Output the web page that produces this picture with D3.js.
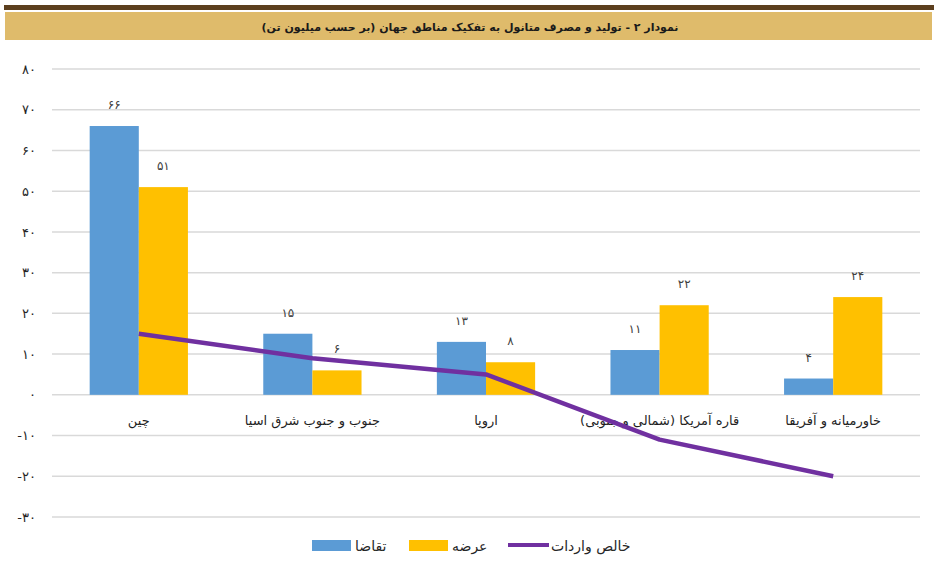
<!DOCTYPE html>
<html>
<head>
<meta charset="utf-8">
<script src="https://cdn.jsdelivr.net/npm/d3@7/dist/d3.min.js"></script>
<style>
  body { margin: 0; background: #fff; }
  svg { display: block; font-family: "DejaVu Sans", sans-serif; }
</style>
</head>
<body>
<svg id="chart" width="938" height="571"></svg>
<script>
// data
const regions = ['چین', 'جنوب و جنوب شرق اسیا', 'اروپا', 'قاره آمریکا (شمالی و جنوبی)', 'خاورمیانه و آفریقا'];
const demand = [66, 15, 13, 11, 4];
const supply = [51, 6, 8, 22, 24];
const netImports = [15, 9, 5, -11, -20];
const yTicks = [80, 70, 60, 50, 40, 30, 20, 10, 0, -10, -20, -30];
const seriesNames = ['تقاضا', 'عرضه', 'خالص واردات'];
const title = 'نمودار ۲ - تولید و مصرف متانول به تفکیک مناطق جهان (بر حسب میلیون تن)';

const colors = { demand: '#5b9bd5', supply: '#ffc000', net: '#7030a0' };

// persian digits
const fa = n => String(n).replace(/\d/g, d => '۰۱۲۳۴۵۶۷۸۹'[d]);

const svg = d3.select('#chart');

// header band
svg.append('rect').attr('x', 4).attr('y', 5).attr('width', 930).attr('height', 5).attr('fill', '#5c3f1e');
svg.append('rect').attr('x', 5).attr('y', 12).attr('width', 927).attr('height', 28).attr('fill', '#dfbb6b');
svg.append('text')
  .attr('x', 470).attr('y', 31)
  .attr('text-anchor', 'middle')
  .attr('direction', 'rtl')
  .attr('font-size', 11).attr('font-weight', 'bold')
  .attr('fill', '#1a1a1a')
  .text(title);

const x = d3.scaleBand().domain(regions).range([52, 920]);
const y = d3.scaleLinear().domain([-30, 80]).range([517, 69]);
const barW = x.bandwidth() * 0.283;

// grid
const grid = svg.append('g');
grid.selectAll('line').data(yTicks).join('line')
  .attr('x1', 52).attr('x2', 920)
  .attr('y1', d => y(d)).attr('y2', d => y(d))
  .attr('stroke', '#d9d9d9').attr('stroke-width', 1.5);

// y axis labels
const yAxis = svg.append('g').attr('transform', 'translate(39,0)')
  .call(d3.axisLeft(y).tickValues(yTicks).tickSize(0).tickFormat(fa));
yAxis.select('.domain').remove();
yAxis.selectAll('text').attr('font-size', 13).attr('fill', '#262626')
  .attr('font-family', '"DejaVu Sans", sans-serif').attr('direction', 'ltr');

// bars
const bars = svg.append('g');
bars.selectAll('rect.demand').data(demand).join('rect')
  .attr('class', 'demand')
  .attr('x', (d, i) => x(regions[i]) + x.bandwidth() / 2 - barW)
  .attr('y', d => y(Math.max(d, 0)))
  .attr('width', barW)
  .attr('height', d => Math.abs(y(d) - y(0)))
  .attr('fill', colors.demand);
bars.selectAll('rect.supply').data(supply).join('rect')
  .attr('class', 'supply')
  .attr('x', (d, i) => x(regions[i]) + x.bandwidth() / 2)
  .attr('y', d => y(Math.max(d, 0)))
  .attr('width', barW)
  .attr('height', d => Math.abs(y(d) - y(0)))
  .attr('fill', colors.supply);

// value labels
const labels = svg.append('g').attr('font-size', 12).attr('fill', '#404040').attr('text-anchor', 'middle');
labels.selectAll('text.demand').data(demand).join('text')
  .attr('class', 'demand')
  .attr('x', (d, i) => x(regions[i]) + x.bandwidth() / 2 - barW / 2)
  .attr('y', d => y(d) - 17)
  .text(fa);
labels.selectAll('text.supply').data(supply).join('text')
  .attr('class', 'supply')
  .attr('x', (d, i) => x(regions[i]) + x.bandwidth() / 2 + barW / 2)
  .attr('y', d => y(d) - 17)
  .text(fa);

// category labels
svg.append('g').selectAll('text').data(regions).join('text')
  .attr('x', d => x(d) + x.bandwidth() / 2)
  .attr('y', 425)
  .attr('text-anchor', 'middle')
  .attr('direction', 'rtl')
  .attr('font-size', 13)
  .attr('fill', '#1f1f1f')
  .text(d => d);

// net import line
const line = d3.line()
  .x((d, i) => x(regions[i]) + x.bandwidth() / 2)
  .y(d => y(d));
svg.append('path').datum(netImports)
  .attr('d', line)
  .attr('fill', 'none')
  .attr('stroke', colors.net)
  .attr('stroke-width', 4.5)
  .attr('stroke-linejoin', 'round');

// legend
const legend = svg.append('g').attr('font-size', 14).attr('fill', '#262626');
const legendItems = [
  { name: seriesNames[0], color: colors.demand, type: 'rect', x: 312 },
  { name: seriesNames[1], color: colors.supply, type: 'rect', x: 409 },
  { name: seriesNames[2], color: colors.net, type: 'line', x: 508 }
];
legendItems.forEach(it => {
  if (it.type === 'rect') {
    legend.append('rect').attr('x', it.x).attr('y', 540).attr('width', 39).attr('height', 11).attr('fill', it.color);
  } else {
    legend.append('line').attr('x1', it.x).attr('x2', it.x + 41).attr('y1', 545).attr('y2', 545)
      .attr('stroke', it.color).attr('stroke-width', 4);
  }
  legend.append('text')
    .attr('x', it.x + 43).attr('y', 551)
    .attr('text-anchor', 'start')
    .text(it.name);
});
</script>
</body>
</html>
